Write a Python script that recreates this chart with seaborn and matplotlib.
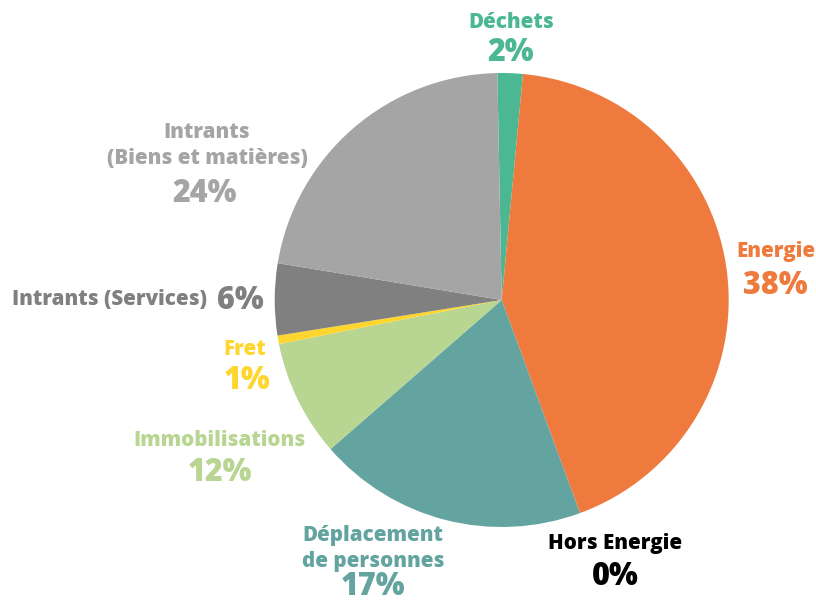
import numpy as np
import matplotlib
matplotlib.use("Agg")
import matplotlib.pyplot as plt
import seaborn as sns

# slice shares (clockwise from the top)
categories = ["Déchets", "Energie", "Hors Energie", "Déplacement de personnes",
              "Immobilisations", "Fret", "Intrants (Services)", "Intrants (Biens et matières)"]
shares = [1.8, 42.9, 0.0, 19.2, 8.3, 0.6, 5.1, 22.1]
# percentages printed on the chart
pct_labels = ["2%", "38%", "0%", "17%", "12%", "1%", "6%", "24%"]

colors = ["#4BB793", "#EE7B3D", "#000000", "#64A4A0",
          "#B8D591", "#FFD530", "#7F807F", "#A5A5A5"]

sns.set_theme(style="white")
plt.rcParams['font.family'] = ['Open Sans', 'DejaVu Sans']

fig = plt.figure(figsize=(8.16, 6.06), dpi=100)
ax = fig.add_axes([0, 0, 1, 1])

ax.pie(shares, colors=colors, startangle=91.1, counterclock=False,
       radius=1, wedgeprops=dict(linewidth=0))

# pixel frame: pie centre at (501.7, 300), radius 227 px
cx, cy, r = 501.7, 300.0, 227.0
ax.set_xlim((0 - cx) / r, (816 - cx) / r)
ax.set_ylim((cy - 606) / r, (cy - 0) / r)
ax.set_aspect('auto')
ax.axis('off')

name_size = 14.8
pct_size = 22


def name(px, py, s, color, ha='center'):
    ax.text((px - cx) / r, (cy - py - 2) / r, s, ha=ha, va='center',
            fontsize=name_size, fontweight='heavy', color=color)


def pct(px, py, s, color, ha='center'):
    ax.text((px - cx) / r, (cy - py - 4) / r, s, ha=ha, va='center',
            fontsize=pct_size, fontweight='heavy', color=color)


# Déchets
name(511, 21, "Déchets", colors[0])
pct(511, 49, pct_labels[0], colors[0])
# Energie
name(776, 250, "Energie", colors[1])
pct(775, 282, pct_labels[1], colors[1])
# Hors Energie
name(615, 542, "Hors Energie", "black")
pct(615, 573, pct_labels[2], "black")
# Déplacement de personnes (kept a bit higher so the % stays inside)
name(373, 533, "Déplacement", colors[3])
name(373, 560, "de personnes", colors[3])
pct(373, 583, pct_labels[3], colors[3])
# Immobilisations
name(220, 438, "Immobilisations", colors[4])
pct(220, 469, pct_labels[4], colors[4])
# Fret
name(245, 348, "Fret", colors[5])
pct(247, 377, pct_labels[5], colors[5])
# Intrants (Services)
name(207, 298, "Intrants (Services)", colors[6], ha='right')
pct(217, 297, pct_labels[6], colors[6], ha='left')
# Intrants (Biens et matières)
name(207, 131, "Intrants", colors[7])
name(207, 157, "(Biens et matières)", colors[7])
pct(205, 190, pct_labels[7], colors[7])

fig.savefig("out.png", dpi=100, facecolor="white")
